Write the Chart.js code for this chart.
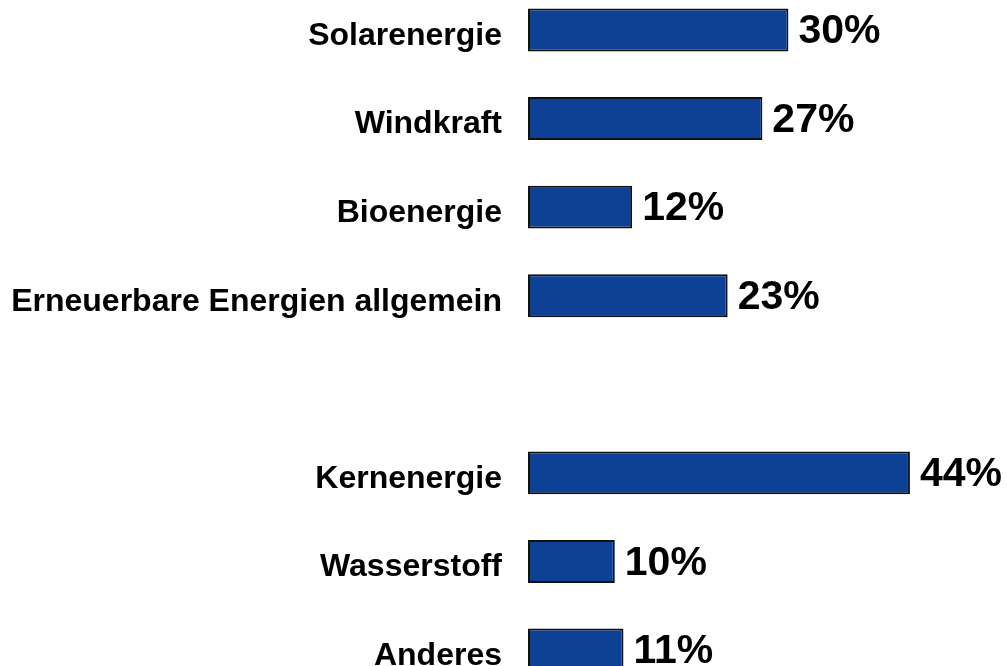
<!DOCTYPE html>
<html>
<head>
<meta charset="utf-8">
<script src="https://cdn.jsdelivr.net/npm/chart.js@4.4.1/dist/chart.umd.min.js"></script>
<style>
  html, body { margin: 0; padding: 0; background: #fff; }
  #wrap { width: 1007px; height: 666px; position: relative; }
</style>
</head>
<body>
<div id="wrap"><canvas id="chart1"></canvas></div>
<script>
// categories (the empty one is the gap between the two groups)
const categories = ['Solarenergie', 'Windkraft', 'Bioenergie', 'Erneuerbare Energien allgemein', '', 'Kernenergie', 'Wasserstoff', 'Anderes'];
const shares = [30, 27, 12, 23, null, 44, 10, 11];

const ch1 = document.getElementById('chart1');
const fontName = '"Liberation Sans", Arial, Helvetica, sans-serif';

// draw the "30%" etc. next to each bar
const valueLabels = {
    id: 'valueLabels',
    afterDatasetsDraw(chart) {
        const ctx = chart.ctx;
        const meta = chart.getDatasetMeta(0);
        ctx.save();
        ctx.font = 'bold 41px ' + fontName;
        ctx.fillStyle = '#000';
        ctx.textAlign = 'left';
        ctx.textBaseline = 'middle';
        meta.data.forEach((bar, i) => {
            const v = shares[i];
            if (v == null) return;
            ctx.fillText(v + '%', bar.x + 10, bar.y + 2);
        });
        ctx.restore();
    }
};

new Chart(ch1, {
    type: 'bar',
    data: {
        labels: categories,
        datasets: [{
            data: shares,
            backgroundColor: '#0d4196',
            borderColor: '#111',
            borderWidth: 2,
            borderSkipped: false,
            categoryPercentage: 1,
            barPercentage: 0.485,
            clip: false
        }]
    },
    options: {
        indexAxis: 'y',
        responsive: true,
        maintainAspectRatio: false,
        animation: false,
        layout: { padding: { top: 30, bottom: 16, left: 0, right: 45 } },
        plugins: {
            legend: { display: false },
            tooltip: { enabled: false }
        },
        scales: {
            x: {
                type: 'linear',
                min: 0,
                max: 50,
                display: false
            },
            y: {
                offset: false,
                // tick marks hidden, but their length keeps the labels off the bars
                grid: { display: false, drawTicks: true, tickLength: 26 },
                border: { display: false },
                ticks: {
                    color: '#000',
                    padding: 0,
                    labelOffset: 6,
                    font: { family: fontName, size: 32, weight: 'bold', lineHeight: 1 }
                },
                afterFit(scale) { scale.width = 528; }
            }
        }
    },
    plugins: [valueLabels]
});
</script>
</body>
</html>
